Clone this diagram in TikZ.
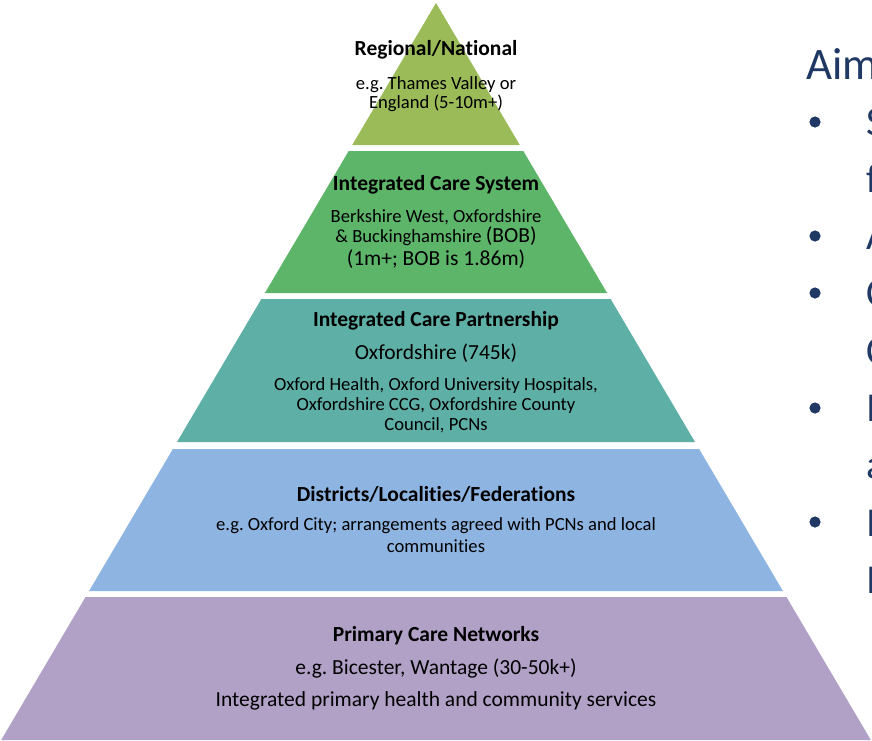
\documentclass[tikz,border=0pt]{standalone}
\usepackage{fontspec}
\setmainfont[Ligatures=NoCommon]{Carlito}
\frenchspacing
\definecolor{lay1}{HTML}{9BBB59}
\definecolor{lay2}{HTML}{5DB56A}
\definecolor{lay3}{HTML}{5EB0A6}
\definecolor{lay4}{HTML}{8EB4E2}
\definecolor{lay5}{HTML}{B1A1C7}
\definecolor{navy}{HTML}{1F3864}
\newcommand{\fs}[1]{\fontsize{#1}{#1}\selectfont}
\begin{document}
\begin{tikzpicture}[x=1pt,y=-1pt,
  ttl/.style={anchor=base,inner sep=0pt,font=\fs{21.5}\bfseries},
  txt/.style={anchor=base,inner sep=0pt,font=\fs{18.6}},
  big/.style={anchor=base,inner sep=0pt,font=\fs{21.5}},
  aim/.style={anchor=base west,inner sep=0pt,text=navy,font=\fs{41}},
  dot/.style={fill=navy,draw=none}]
\useasboundingbox (0,0) rectangle (872,740);
\fill[white] (0,0) rectangle (872,740);
% pyramid bands (apex 436,3; half-width = 0.59*(y-3))
\def\hw#1{0.59*(#1-3)}
\fill[lay1] (436,3) -- ({436+\hw{145}},145) -- ({436-\hw{145}},145) -- cycle;
\fill[lay2] ({436-\hw{151}},151) -- ({436+\hw{151}},151) -- ({436+\hw{293}},293) -- ({436-\hw{293}},293) -- cycle;
\fill[lay3] ({436-\hw{299}},299) -- ({436+\hw{299}},299) -- ({436+\hw{442}},442) -- ({436-\hw{442}},442) -- cycle;
\fill[lay4] ({436-\hw{449}},449) -- ({436+\hw{449}},449) -- ({436+\hw{591}},591) -- ({436-\hw{591}},591) -- cycle;
\fill[lay5] ({436-\hw{597}},597) -- ({436+\hw{597}},597) -- ({436+\hw{740}},740) -- ({436-\hw{740}},740) -- cycle;
% layer 1
\node[ttl] (t1) at (436,55) {Regional/National};
\node[txt] (a1) at (436,89) {e.g. Thames Valley or};
\node[txt] (b1) at (436,108) {England (5-10m+)};
% layer 2
\node[ttl] (t2) at (436,190) {Integrated Care System};
\node[txt] (a2) at (436,222) {Berkshire West, Oxfordshire};
\node[txt] (b2) at (436,242) {\& Buckinghamshire {\fs{21.5}(BOB)}};
\node[big] (c2) at (436,265) {(1m+; BOB is 1.86m)};
% layer 3
\node[ttl] (t3) at (436,326) {Integrated Care Partnership};
\node[big] (a3) at (436,359) {Oxfordshire (745k)};
\node[txt] (b3) at (436,390) {Oxford Health, Oxford University Hospitals,};
\node[txt] (c3) at (436,410) {Oxfordshire CCG, Oxfordshire County};
\node[txt] (d3) at (436,430) {Council, PCNs};
% layer 4
\node[ttl] (t4) at (436,501) {Districts/Localities/Federations};
\node[txt] (a4) at (436,530) {e.g. Oxford City; arrangements agreed with PCNs and local};
\node[txt] (b4) at (436,552) {communities};
% layer 5
\node[ttl] (t5) at (436,641) {Primary Care Networks};
\node[big] (a5) at (436,674) {e.g. Bicester, Wantage (30-50k+)};
\node[big] (b5) at (436,706) {Integrated primary health and community services};
% right-hand cropped text
\begin{scope}
\clip (790,0) rectangle (872,740);
\node[aim,font=\fs{45}] (aimt) at (806,79) {Aim};
\foreach \y in {122,236,293,408,522} \fill[dot] (815,\y) circle (5.6);
\node[aim] (r1) at (866,135) {S};
\node[aim] (r2) at (866,192) {f};
\node[aim] (r3) at (866,249) {A};
\node[aim] (r4) at (866,306) {C};
\node[aim] (r5) at (866,364) {C};
\node[aim] (r6) at (866,421) {I};
\node[aim] (r7) at (866,478) {a};
\node[aim] (r8) at (866,536) {I};
\node[aim] (r9) at (866,593) {I};
\end{scope}
\end{tikzpicture}
\end{document}
